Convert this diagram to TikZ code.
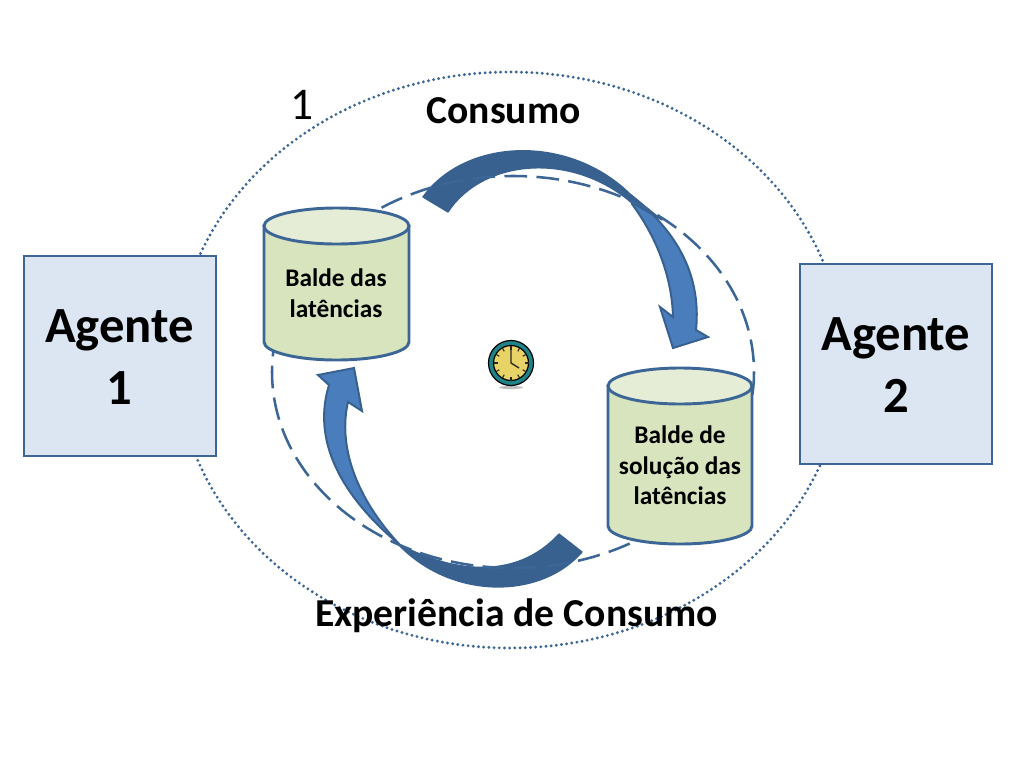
\documentclass[tikz,border=0pt]{standalone}
\usepackage{fontspec}
\setmainfont{Carlito}
\definecolor{edgeblue}{HTML}{3C6695}
\definecolor{arrowdark}{HTML}{386190}
\definecolor{arrowlight}{HTML}{4A7DBB}
\definecolor{boxfill}{HTML}{DCE6F2}
\definecolor{cylbody}{HTML}{D7E4BD}
\definecolor{cyltop}{HTML}{E6EDD7}
\definecolor{clockteal}{HTML}{1F8488}
\definecolor{clockface}{HTML}{E8D366}
\tikzset{
  agentbox/.style={draw=edgeblue,line width=1.5pt,fill=boxfill,minimum width=144pt,minimum height=150pt,inner sep=0pt,align=center,font=\fontsize{38}{46}\selectfont\bfseries},
  cyllabel/.style={align=center,inner sep=0pt,font=\fontsize{19}{23}\selectfont\bfseries},
  cylline/.style={draw=edgeblue,line width=2.2pt},
  heading/.style={inner sep=0pt,font=\fontsize{29.7}{34}\selectfont\bfseries},
  darkpart/.style={fill=arrowdark,draw=arrowdark,line width=1pt,line join=round},
  lightpart/.style={fill=arrowlight,draw=arrowdark,line width=1.5pt,line join=miter},
  clocktick/.style={draw=black!85,line width=.8pt}
}
\begin{document}
\begin{tikzpicture}[x=0.75pt,y=-0.75pt]
\useasboundingbox (0,0) rectangle (1024,768);
% outer dotted ellipse
\draw[edgeblue,line width=2.4pt,line cap=round,dash pattern=on 0pt off 3.9pt] (510,360) ellipse [x radius=333,y radius=288];
% top arrow
\path[lightpart] (632,196) .. controls (672,228) and (702,270) .. (696,330)
  -- (708,337) -- (673,348) -- (660,307) -- (673,317)
  .. controls (672,275) and (655,235) .. (632,204) -- cycle;
\path[darkpart] (423,197) .. controls (465,138) and (570,133) .. (632,196) -- (662,220)
  -- (632,203) .. controls (570,150) and (482,160) .. (448,212) -- cycle;
% bottom arrow
\path[lightpart] (400,545) .. controls (340,495) and (312,440) .. (329,385)
  -- (318,375) -- (354,368) -- (362,411) -- (348,402)
  .. controls (338,445) and (355,497) .. (400,545) -- cycle;
\path[darkpart] (397,543) .. controls (450,572) and (515,582) .. (559,534)
  -- (582,552) .. controls (540,600) and (450,600) .. (397,543) -- cycle;
% dashed ring
\draw[edgeblue,line width=1.9pt,dash pattern=on 17pt off 7pt] (513,372) ellipse [x radius=241,y radius=196];
% left cylinder
\path[cylline,fill=cylbody] (264,226) -- (264,342) arc [start angle=180,end angle=0,x radius=72.5,y radius=18] -- (409,226) -- cycle;
\path[cylline,fill=cyltop] (336.5,226) ellipse [x radius=72.5,y radius=18];
\node[cyllabel] (baldeA) at (336,293) {Balde das\\latências};
% right cylinder
\path[cylline,fill=cylbody] (608,386) -- (608,526) arc [start angle=180,end angle=0,x radius=72,y radius=18] -- (752,386) -- cycle;
\path[cylline,fill=cyltop] (680,386) ellipse [x radius=72,y radius=18];
\node[cyllabel] (baldeB) at (680,465.5) {Balde de\\solução das\\latências};
% agents
\node[agentbox] (agente1) at (120,356) {};
\node[agentbox,draw=none,fill=none] (agente1text) at (119.5,357) {Agente\\1};
\node[agentbox] (agente2) at (896,364) {};
\node[agentbox,draw=none,fill=none] (agente2text) at (896,365) {Agente\\2};
% headings
\node[heading] (consumo) at (503.5,110.5) {Consumo};
\node[heading] (experiencia) at (516.5,616) {Experiência de Consumo};
\node[inner sep=0pt,font=\fontsize{34}{40}\selectfont] (um) at (302,105) {1};
% clock
\fill[black!25] (511,387.5) ellipse [x radius=12,y radius=1.6];
\draw[black,line width=.9pt,fill=clockteal] (511,363) circle [radius=22.5];
\draw[black,line width=.9pt,fill=clockface] (511,363) circle [radius=17.5];
\foreach \a in {0,30,...,330} \draw[clocktick] (511,363) ++(\a:17.5) -- ++(\a+180:4);
\draw[black!85,line width=1pt] (511,348) -- (511,363) -- (519,368);
\end{tikzpicture}
\end{document}
